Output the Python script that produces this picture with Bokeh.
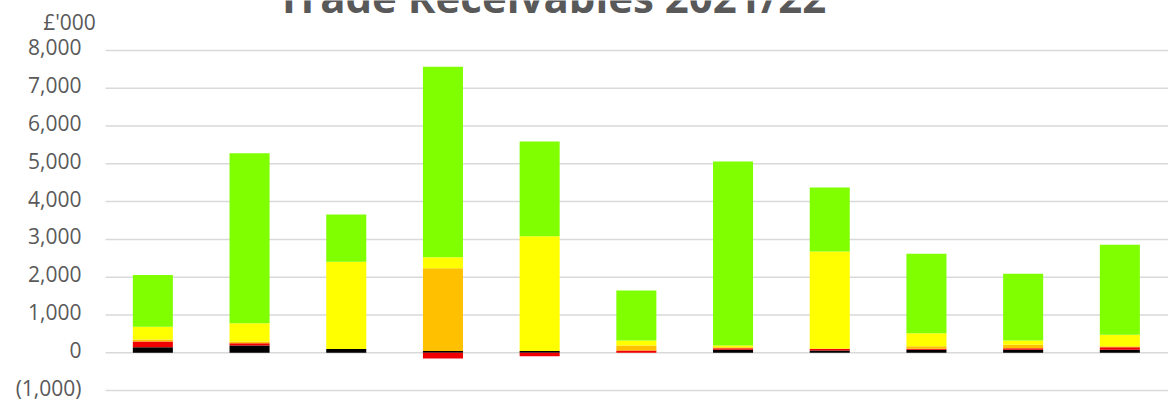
from bokeh.plotting import figure
from bokeh.models import ColumnDataSource, Range1d
from bokeh.core.properties import value
from bokeh.embed import file_html
from bokeh.resources import INLINE

# ---- data (values in £'000) ----
categories = ["1", "2", "3", "4", "5", "6", "7", "8", "9", "10", "11"]
black  = [150, 190, 100,   50,   50,    0,   80,   60,   80,   80,   80]
red    = [150,  60,   0, -150,  -90,   60,   40,   45,   25,   40,   70]
orange = [ 50,  50,   0, 2190,    0,  130,   30,    0,   70,   90,   25]
yellow = [340, 480, 2310, 290, 3035,  135,   45, 2575,  345,  113,  300]
green  = [1370, 4500, 1250, 5040, 2505, 1325, 4865, 1690, 2100, 1765, 2385]

series_names = ["black", "red", "orange", "yellow", "green"]
series_values = [black, red, orange, yellow, green]
series_colors = ["#000000", "#F00000", "#FFC000", "#FFFF00", "#80FF00"]

tick_values = [-1000, 0, 1000, 2000, 3000, 4000, 5000, 6000, 7000, 8000]
tick_labels = ["(1,000)", "0", "1,000", "2,000", "3,000", "4,000", "5,000", "6,000", "7,000", "8,000"]

title_text = "Trade Receivables 2021/22"
unit_text = "£'000"

# ---- layout constants (pixels) ----
W, H = 1168, 401
LEFT = 104            # left edge of the category area
CAT_PX = 96.7         # width of one category slot
ZERO_Y = 352.3        # pixel row of the 0 line
PX_PER_K = 37.8       # pixels per 1,000
LABEL_RAISE_PX = 3    # tick labels sit slightly above their gridline

x0 = -LEFT / CAT_PX
x1 = (W - LEFT) / CAT_PX
y_top = ZERO_Y / PX_PER_K * 1000
y_bot = -(H - ZERO_Y) / PX_PER_K * 1000

def px_to_x(px):
    return (px - LEFT) / CAT_PX

def py_to_y(py):
    return (ZERO_Y - py) / PX_PER_K * 1000

p = figure(
    x_range=Range1d(x0, x1), y_range=Range1d(y_bot, y_top),
    width=W, height=H,
    output_backend="svg", toolbar_location=None,
    x_axis_location=None, y_axis_location=None,
    min_border_left=0, min_border_right=0, min_border_top=0, min_border_bottom=0,
)
p.outline_line_color = None
p.grid.visible = False
p.background_fill_color = "white"
p.border_fill_color = "white"

# horizontal gridlines at the tick values
grid_src = ColumnDataSource(dict(x0=[px_to_x(105)] * len(tick_values),
                                 x1=[x1] * len(tick_values), y=tick_values))
p.segment(x0="x0", y0="y", x1="x1", y1="y", source=grid_src,
          line_color="#D9D9D9", line_width=1.5)

# tick labels
raise_units = LABEL_RAISE_PX / PX_PER_K * 1000
lab_src = ColumnDataSource(dict(x=[px_to_x(81)] * len(tick_values),
                                y=[v + raise_units for v in tick_values], t=tick_labels))
p.text(x="x", y="y", text="t", source=lab_src, text_align="right", text_baseline="middle",
       text_font=value("Open Sans"), text_font_size=value("21px"), text_color="#595959")

# stacked bars: positives upward from 0, negatives downward from 0
xpos = [i + 0.5 for i in range(len(categories))]
pos_base = [0.0] * len(categories)
neg_base = [0.0] * len(categories)
for name, vals, col in zip(series_names, series_values, series_colors):
    bottoms, tops = [], []
    for i, v in enumerate(vals):
        if v >= 0:
            bottoms.append(pos_base[i]); tops.append(pos_base[i] + v); pos_base[i] += v
        else:
            bottoms.append(neg_base[i]); tops.append(neg_base[i] + v); neg_base[i] += v
    src = ColumnDataSource(dict(x=xpos, bottom=bottoms, top=tops, cat=categories))
    p.vbar(x="x", bottom="bottom", top="top", width=0.414, source=src,
           fill_color=col, line_color=None)

# title (cut off at the top edge, as in the reference) and unit label
p.text(x=[px_to_x(551)], y=[py_to_y(-4)], text=[title_text],
       text_align="center", text_baseline="alphabetic",
       text_font=value("Open Sans"), text_font_style="bold",
       text_font_size=value("42px"), text_color="#595959")
p.text(x=[px_to_x(69)], y=[py_to_y(21)], text=[unit_text],
       text_align="center", text_baseline="middle",
       text_font=value("Open Sans"), text_font_size=value("21px"), text_color="#595959")

open("out.html", "w").write(file_html(p, INLINE))
